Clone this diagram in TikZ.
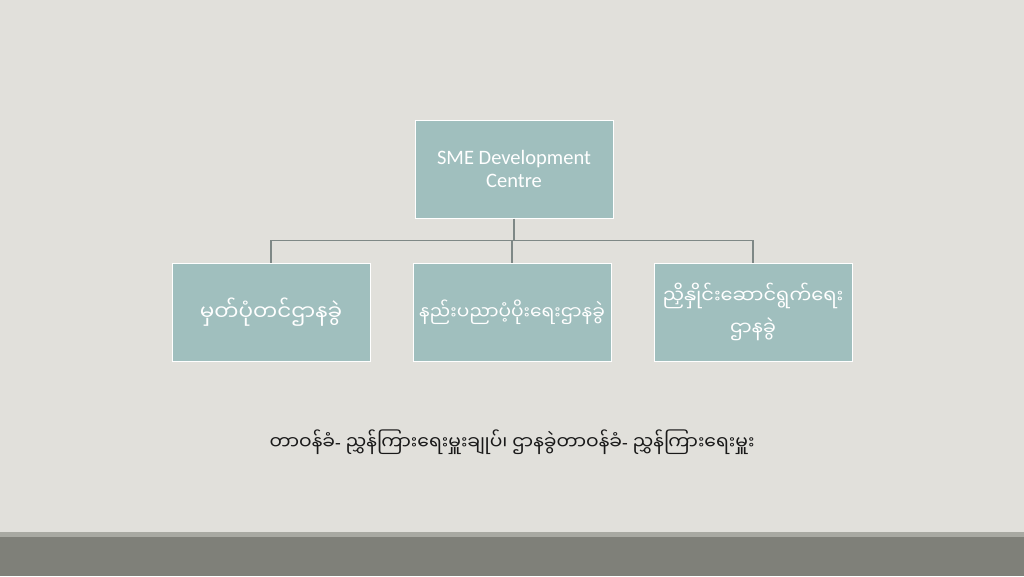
\documentclass[tikz,border=0pt]{standalone}
\usepackage{fontspec}
\setmainfont{Carlito}
\newfontfamily\myan[Script=Myanmar]{Noto Sans Myanmar UI}
\usetikzlibrary{positioning}
\definecolor{fundo}{HTML}{E1E0DB}
\definecolor{faixa}{HTML}{7F8079}
\definecolor{faixaclara}{HTML}{A8A9A2}
\definecolor{caixacor}{HTML}{A0BFBE}
\definecolor{linhacor}{HTML}{7E8886}
\newcommand\hifen{{\rmfamily -}}
\begin{document}
\begin{tikzpicture}[x=1pt, y=-1pt,
	caixa/.style={draw=white, line width=1pt, fill=caixacor, text=white,
		minimum width=198pt, minimum height=98pt, align=center, inner sep=2pt,
		font=\fontsize{20.5}{23}\selectfont},
	birmane/.style={font=\myan\fontsize{#1}{32}\selectfont},
	conector/.style={draw=linhacor, line width=1.3pt}]
	% Fundo
	\fill[fundo] (0,0) rectangle (1024,576);
	\fill[faixaclara] (0,532) rectangle (1024,537);
	\fill[faixa] (0,537) rectangle (1024,576);
	\useasboundingbox (0,0) rectangle (1024,576);
	% Caixas
	\node [caixa] (sme) at (514,169) {SME Development\\Centre};
	\node [caixa, birmane=18.6] (tec) at (512,312) {နည်းပညာပံ့ပိုးရေးဌာနခွဲ};
	\node [caixa, birmane=21.5, left=42pt of tec] (reg) {မှတ်ပုံတင်ဌာနခွဲ};
	\node [caixa, birmane=19.4, right=42pt of tec] (coord) {ညှိနှိုင်းဆောင်ရွက်ရေး\\ဌာနခွဲ};
	% Ligações
	\coordinate [below=22pt of sme.south] (juncao);
	\draw [conector] (sme.south) -- (juncao);
	\draw [conector] (reg.north) |- (juncao) -| (coord.north);
	\draw [conector] (tec.north) -- (tec.north |- juncao);
	% Legenda
	\node [font=\myan\fontsize{18.7}{22}\selectfont, text=black!90] (legenda) at (512,442)
		{တာဝန်ခံ\hifen{} ညွှန်ကြားရေးမှူးချုပ်၊ ဌာနခွဲတာဝန်ခံ\hifen{} ညွှန်ကြားရေးမှူး};
\end{tikzpicture}
\end{document}
